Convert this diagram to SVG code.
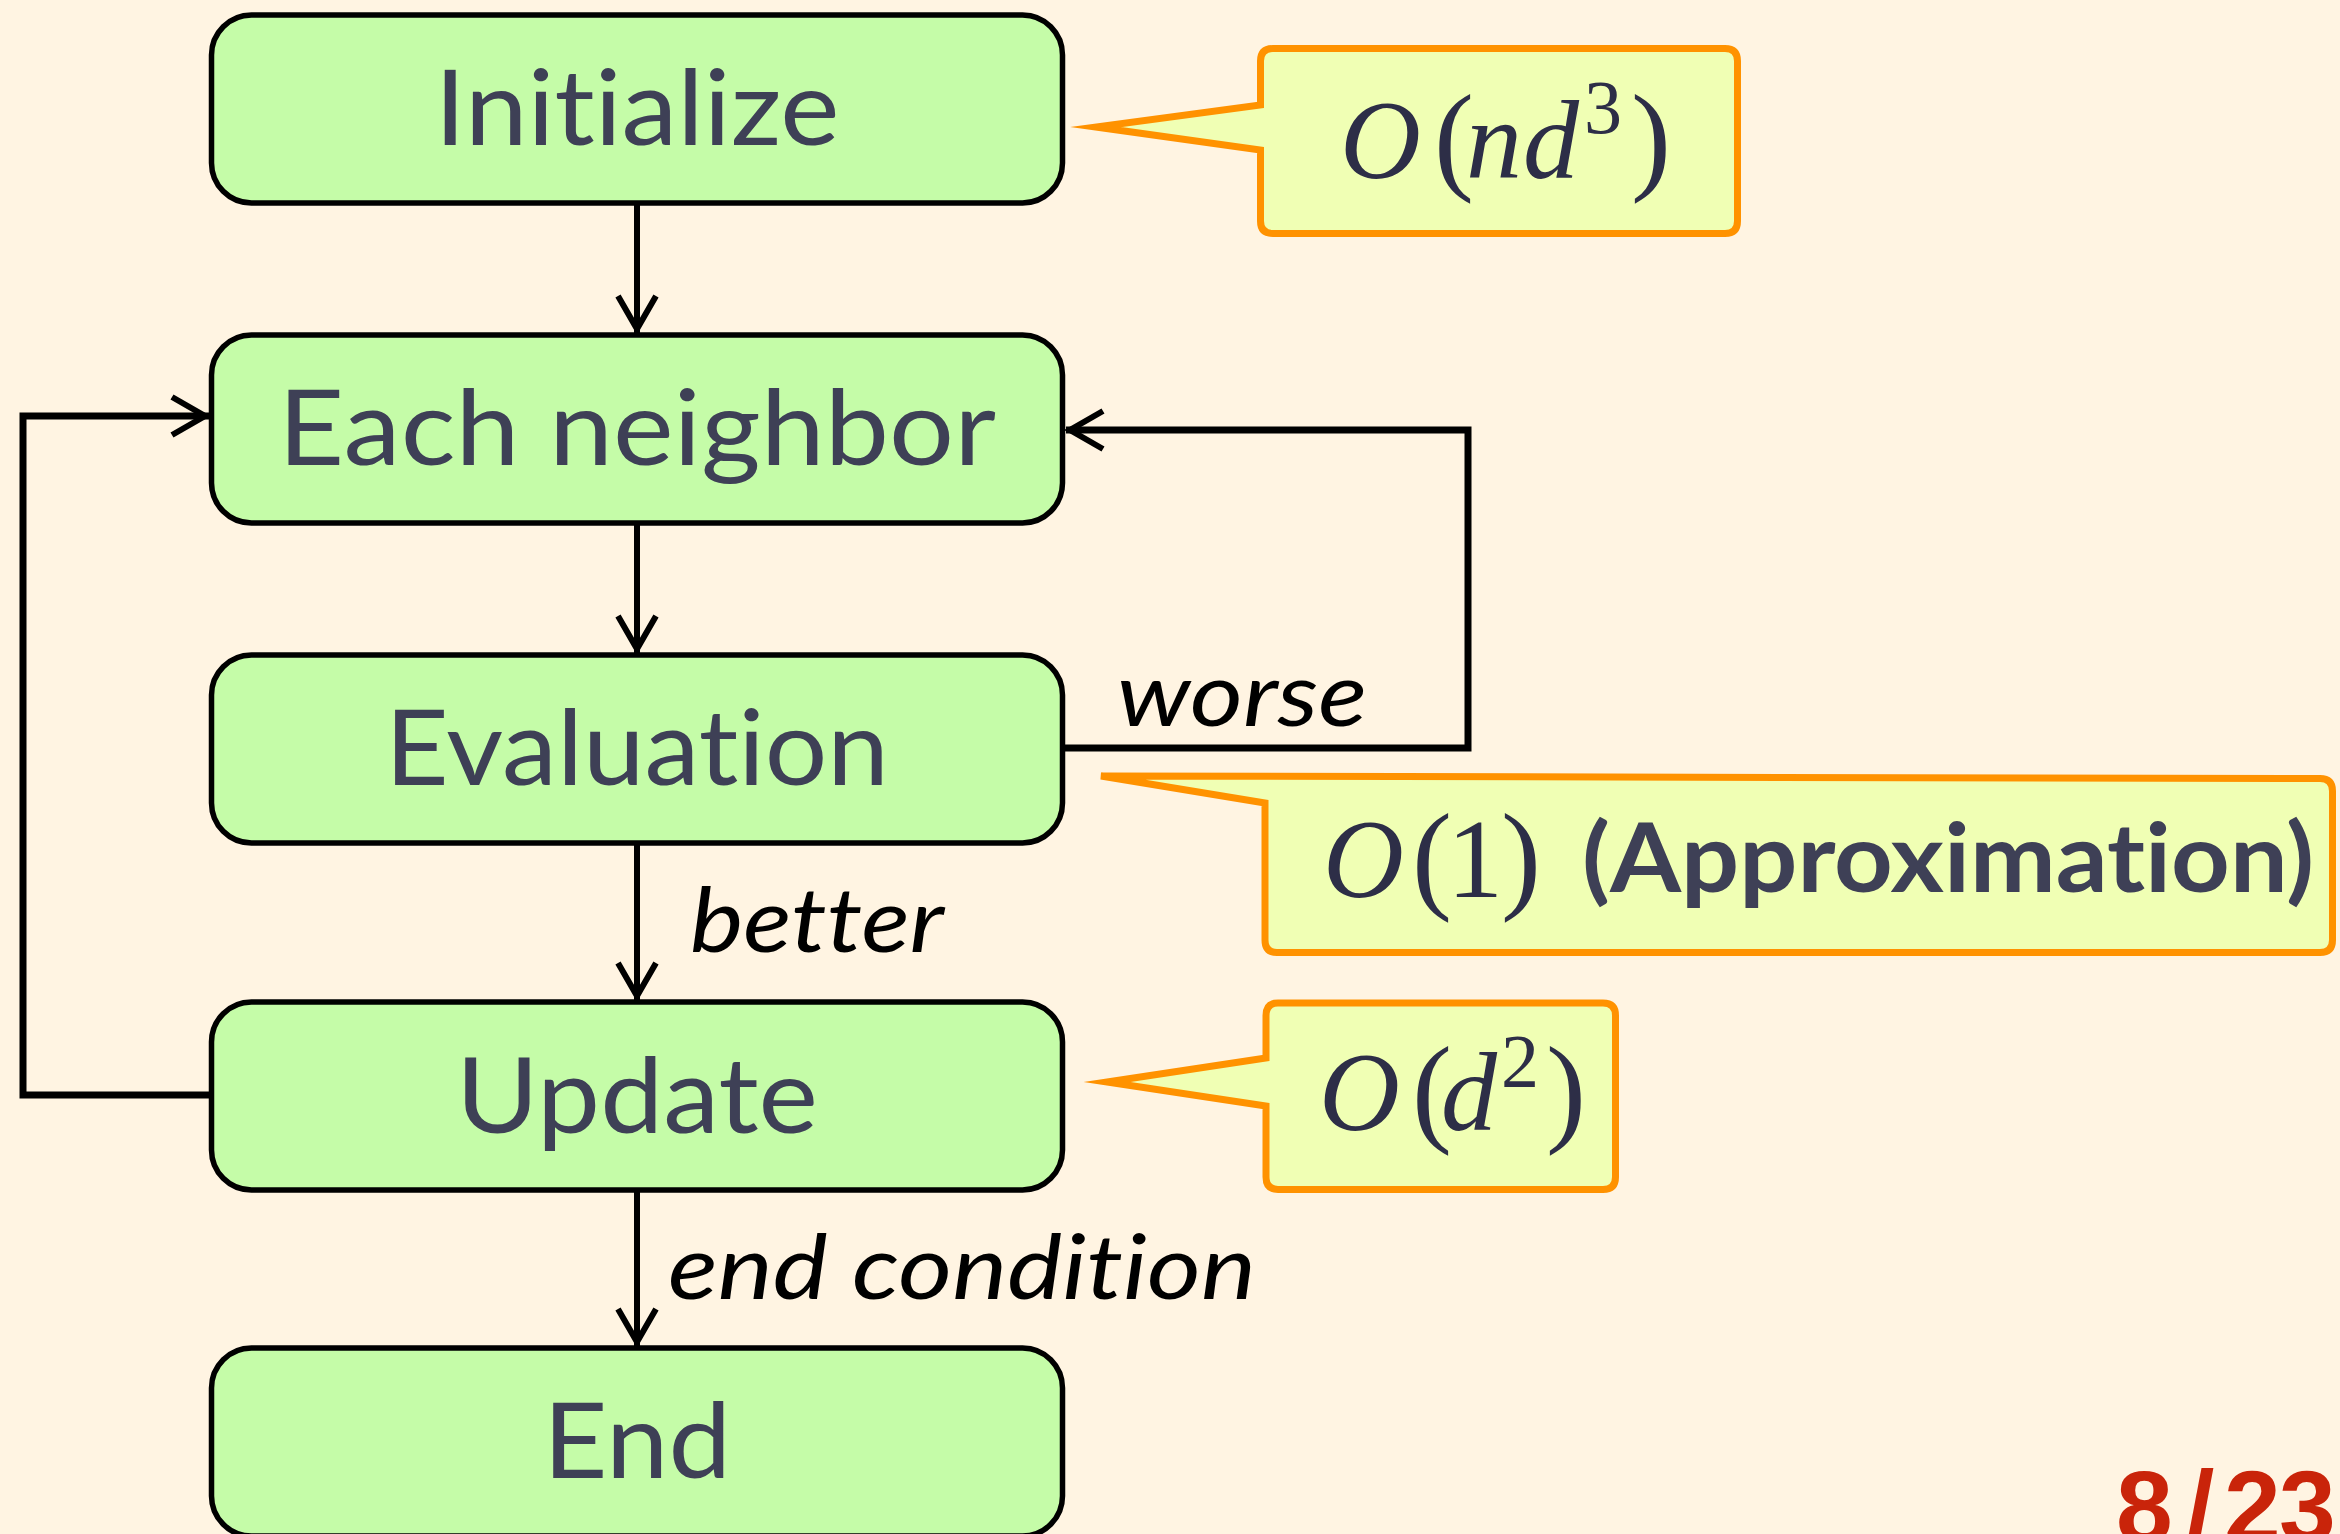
<svg xmlns="http://www.w3.org/2000/svg" width="2340" height="1534" viewBox="0 0 2340 1534">
  <defs>
    <style>
      text { font-variant-ligatures: none; }
      .node rect { fill: #c5fca8; stroke: #000; stroke-width: 5.5; }
      .label { font-family: "Lato", "Liberation Sans", sans-serif; font-size: 104px; fill: #3e4056; text-anchor: middle; }
      .edge-label { font-family: "Lato", "Liberation Sans", sans-serif; font-style: italic; font-size: 90px; fill: #000; }
      .callout path { fill: #f0ffb4; stroke: #ff9200; stroke-width: 7; stroke-linejoin: miter; stroke-miterlimit: 10; }
      .math { font-family: "Liberation Serif", "DejaVu Serif", serif; font-size: 112px; fill: #2d2e47; }
      .math .it { font-style: italic; }
      .math .paren { font-size: 120px; }
      .note { font-family: "Lato", "Liberation Sans", sans-serif; font-weight: bold; font-size: 96px; fill: #3e4056; }
      .link { fill: none; stroke: #000; stroke-width: 6; }
      .loop { fill: none; stroke: #000; stroke-width: 7; stroke-linejoin: miter; }
      .page { font-family: "Liberation Sans", "Arial", sans-serif; font-weight: bold; font-size: 102px; fill: #c9240a; }
    </style>
    <marker id="arrow" markerUnits="userSpaceOnUse" viewBox="-45 -25 50 50" refX="0" refY="0" markerWidth="50" markerHeight="50" orient="auto">
      <path d="M -37,-19 L -4,0 L -37,19" fill="none" stroke="#000" stroke-width="6"/>
    </marker>
  </defs>

  <rect x="0" y="0" width="2340" height="1534" fill="#fff4e2"/>

  <!-- connectors -->
  <g id="connectors">
    <line class="link" x1="637" y1="203" x2="637" y2="333" marker-end="url(#arrow)"/>
    <line class="link" x1="637" y1="523" x2="637" y2="653" marker-end="url(#arrow)"/>
    <line class="link" x1="637" y1="843" x2="637" y2="1000" marker-end="url(#arrow)"/>
    <line class="link" x1="637" y1="1190" x2="637" y2="1346" marker-end="url(#arrow)"/>
    <!-- worse: back to the neighbor loop -->
    <polyline class="loop" points="1063,748 1468,748 1468,430 1066,430" marker-end="url(#arrow)"/>
    <!-- after update: next neighbor -->
    <polyline class="loop" points="211,1095 23,1095 23,416 209,416" marker-end="url(#arrow)"/>
    <text class="edge-label" x="1117" y="726" textLength="250" lengthAdjust="spacingAndGlyphs">worse</text>
    <text class="edge-label" x="690" y="952" textLength="254" lengthAdjust="spacingAndGlyphs">better</text>
    <text class="edge-label" x="668" y="1299" textLength="588" lengthAdjust="spacingAndGlyphs">end condition</text>
  </g>

  <!-- flow nodes -->
  <g id="node-initialize" class="node">
    <rect x="211.5" y="15" width="851" height="188" rx="40" ry="40"/>
    <text class="label" x="637" y="145" textLength="405" lengthAdjust="spacingAndGlyphs">Initialize</text>
  </g>
  <g id="node-neighbor" class="node">
    <rect x="211.5" y="335" width="851" height="188" rx="40" ry="40"/>
    <text class="label" x="637" y="465" textLength="718" lengthAdjust="spacingAndGlyphs">Each neighbor</text>
  </g>
  <g id="node-evaluation" class="node">
    <rect x="211.5" y="655" width="851" height="188" rx="40" ry="40"/>
    <text class="label" x="637" y="785" textLength="504" lengthAdjust="spacingAndGlyphs">Evaluation</text>
  </g>
  <g id="node-update" class="node">
    <rect x="211.5" y="1002" width="851" height="188" rx="40" ry="40"/>
    <text class="label" x="637" y="1133" textLength="362" lengthAdjust="spacingAndGlyphs">Update</text>
  </g>
  <g id="node-end" class="node">
    <rect x="211.5" y="1348" width="851" height="188" rx="40" ry="40"/>
    <text class="label" x="637" y="1478" textLength="188" lengthAdjust="spacingAndGlyphs">End</text>
  </g>

  <!-- cost callouts -->
  <g id="callout-init" class="callout">
    <path d="M 1273,48.5 H 1725 Q 1737.5,48.5 1737.5,61 V 221 Q 1737.5,233.5 1725,233.5 H 1273 Q 1260.5,233.5 1260.5,221 V 150 L 1096,127 L 1260.5,105 V 61 Q 1260.5,48.5 1273,48.5 Z"/>
    <text class="math" y="178"><tspan class="it" x="1340">O</tspan><tspan class="paren" x="1434">(</tspan><tspan class="it" x="1466">n</tspan><tspan class="it" x="1523">d</tspan><tspan x="1584" dy="-45" font-size="76">3</tspan><tspan class="paren" x="1631" dy="45">)</tspan></text>
  </g>
  <g id="callout-eval" class="callout">
    <path d="M 1101,776 L 2320,778.5 Q 2332.5,778.5 2332.5,791 V 940 Q 2332.5,952.5 2320,952.5 H 1277 Q 1265,952.5 1265,940 V 803 Z"/>
    <text class="math" y="897"><tspan class="it" x="1323">O</tspan><tspan class="paren" x="1412">(</tspan><tspan x="1447">1</tspan><tspan class="paren" x="1501">)</tspan></text>
    <text class="note" x="1582" y="892" textLength="732" lengthAdjust="spacingAndGlyphs">(Approximation)</text>
  </g>
  <g id="callout-update" class="callout">
    <path d="M 1278,1003 H 1603 Q 1615.5,1003 1615.5,1015.5 V 1177 Q 1615.5,1189.5 1603,1189.5 H 1278 Q 1266,1189.5 1266,1177 V 1106 L 1107,1082 L 1266,1058 V 1015.5 Q 1266,1003 1278,1003 Z"/>
    <text class="math" y="1130"><tspan class="it" x="1319">O</tspan><tspan class="paren" x="1412">(</tspan><tspan class="it" x="1441">d</tspan><tspan x="1501" dy="-43" font-size="76">2</tspan><tspan class="paren" x="1546" dy="43">)</tspan></text>
  </g>

  <!-- slide number -->
  <text class="page" x="2116 2186 2224 2279" y="1542">8/23</text>
</svg>
